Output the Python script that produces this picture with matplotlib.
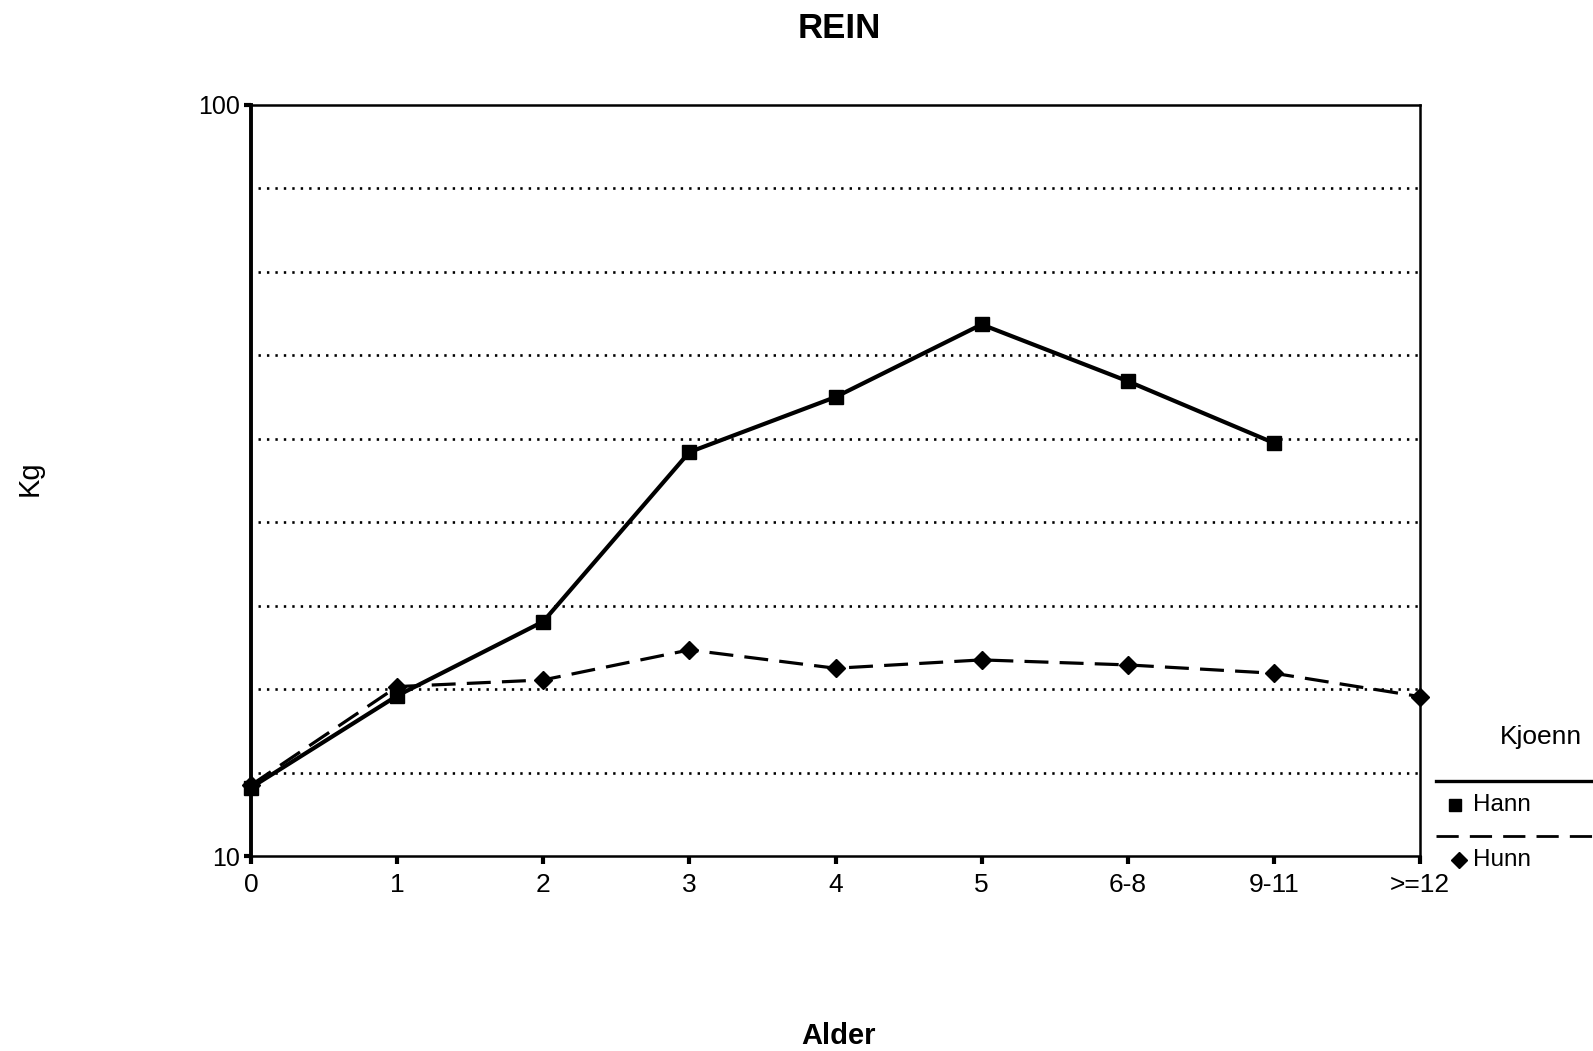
import matplotlib
matplotlib.use("Agg")
import matplotlib.pyplot as plt
from matplotlib.lines import Line2D

plt.rcParams['font.family'] = ['Liberation Sans', 'DejaVu Sans']

# data (Kg)
alder = ['0', '1', '2', '3', '4', '5', '6-8', '9-11', '>=12']
hann = [18.2, 29.2, 38.1, 58.4, 65.0, 73.7, 66.9, 59.5]
hunn = [18.5, 30.3, 31.1, 34.7, 32.5, 33.5, 32.9, 31.9, 29.1]
grid_vals = [20, 30, 40, 50, 60, 70, 80, 90]

fig = plt.figure(figsize=(15.93, 10.51), dpi=100)
ax = fig.add_axes([251/1593, 1 - 856/1051, (1420 - 251)/1593, (856 - 105)/1051])

for v in grid_vals:
    ax.axhline(v, xmin=0.006, color='black', lw=1.9, ls=(0, (0.9, 2.3)), zorder=1)

x = list(range(len(alder)))
ax.plot(x[:len(hann)], hann, color='black', lw=3.0, marker='s', ms=9.5,
        zorder=3, clip_on=False)
ax.plot(x, hunn, color='black', lw=2.3, ls=(0, (7.5, 3.5)), marker='D', ms=9.5,
        zorder=3, clip_on=False)

ax.set_xlim(0, 8)
ax.set_ylim(10, 100)
ax.set_xticks(x)
ax.set_xticklabels(alder, fontsize=19)
ax.set_yticks([10, 100])
ax.set_yticklabels(['10', '100'], fontsize=18)
ax.tick_params(axis='x', direction='out', length=6, width=3, pad=6)
ax.tick_params(axis='y', direction='out', length=5, width=3, pad=3)

ax.spines['left'].set_linewidth(2.8)
for s in ['top', 'right', 'bottom']:
    ax.spines[s].set_linewidth(1.8)

fig.text(839/1593, 1 - 28/1051, 'REIN', fontsize=25, fontweight='bold',
         ha='center', va='center')
fig.text(30/1593, 1 - 478/1051, 'Kg', fontsize=21, rotation=90,
         ha='center', va='center')
fig.text(839/1593, 1 - 1036/1051, 'Alder', fontsize=21, fontweight='semibold',
         ha='center', va='center')

# legend
fig.text(1541/1593, 1 - 737/1051, 'Kjoenn', fontsize=19, ha='center', va='center')
fig.add_artist(Line2D([1436/1593, 1.0], [1 - 781/1051] * 2, color='black', lw=2.4,
                      transform=fig.transFigure))
fig.add_artist(Line2D([1455/1593], [1 - 805/1051], color='black', marker='s', ms=8,
                      ls='none', transform=fig.transFigure))
fig.text(1473/1593, 1 - 805/1051, 'Hann', fontsize=17.5, ha='left', va='center')
fig.add_artist(Line2D([1436/1593, 1.0], [1 - 836/1051] * 2, color='black', lw=2.0,
                      ls=(0, (8, 4)), transform=fig.transFigure))
fig.add_artist(Line2D([1459/1593], [1 - 860/1051], color='black', marker='D', ms=8,
                      ls='none', transform=fig.transFigure))
fig.text(1473/1593, 1 - 860/1051, 'Hunn', fontsize=17.5, ha='left', va='center')

fig.savefig('out.png', dpi=100)
